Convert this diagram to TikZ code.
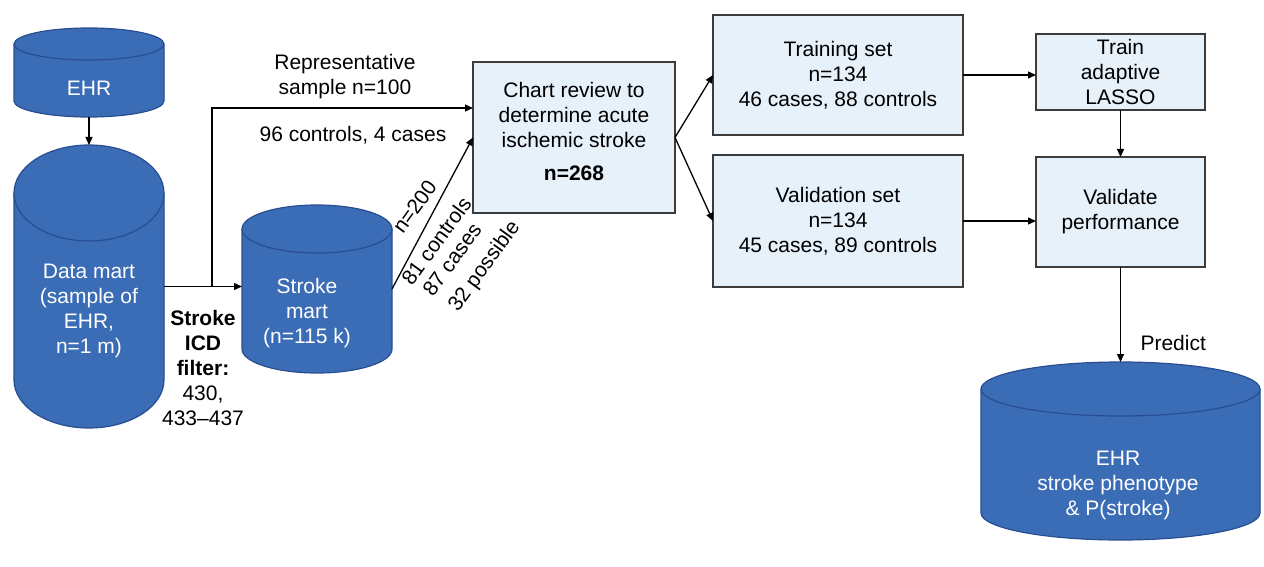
\documentclass[tikz,border=0pt]{standalone}
\usepackage{fontspec}
\setmainfont{Liberation Sans}
\usetikzlibrary{arrows.meta,calc}
\definecolor{cylblue}{RGB}{59,108,182}
\definecolor{cyledge}{RGB}{40,78,145}
\definecolor{boxfill}{RGB}{231,241,250}
\definecolor{boxedge}{RGB}{60,60,60}
\newcommand{\dbcyl}[6]{%
  \path[fill=cylblue,draw=cyledge,line width=1.2pt] (#2,#4+#6) -- (#2,#5-#6)
    arc[start angle=180,end angle=0,x radius={(#3-#2)/2},y radius=#6]
    -- (#3,#4+#6)
    arc[start angle=0,end angle=-180,x radius={(#3-#2)/2},y radius=#6] -- cycle;
  \draw[cyledge,line width=1.2pt] (#2,#4+#6)
    arc[start angle=180,end angle=0,x radius={(#3-#2)/2},y radius=#6];
  \node[inner sep=0pt,outer sep=0pt,minimum width={#3-#2},minimum height={#5-#4}] (#1)
    at ({(#2+#3)/2},{(#4+#5)/2}) {};
}
\begin{document}
\begin{tikzpicture}[x=1pt,y=-1pt,
  font=\fontsize{21}{25}\selectfont,
  box/.style={draw=boxedge,fill=boxfill,line width=1.3pt,inner sep=0pt,outer sep=0pt,align=center},
  cyltext/.style={text=white,align=center},
  lab/.style={align=center,text=black},
  rlab/.style={rotate=54,anchor=base west,inner sep=0pt},
  arr/.style={line width=1.3pt,-{Triangle[length=8pt,width=7pt]}}]
\useasboundingbox (0,0) rectangle (1264,567);
\fill[white] (0,0) rectangle (1264,567);

% cylinders
\dbcyl{ehr}{14}{164}{28}{117}{16}
\dbcyl{dm}{14}{164}{145}{428}{48}
\dbcyl{sm}{242}{392}{205}{373}{24}
\dbcyl{out}{981}{1260}{362}{540}{27}

\node[cyltext] (ehrt) at (89,88) {EHR};
\node[cyltext] (dmt) at (89,311) {Data mart\\(sample of\\EHR,\\n=1 m)};
\node[cyltext] (smt) at (307,313) {Stroke\\mart\\(n=115 k)};
\node[cyltext] (outt) at (1118,485) {EHR\\stroke phenotype\\\& P(stroke)};

% boxes
\node[box,minimum width=202,minimum height=151] (chart) at (574,137.5) {};
\node[lab] (chartt) at (574,131.5) {Chart review to\\determine acute\\ischemic stroke\\[8pt]\textbf{n=268}};
\node[box,minimum width=250,minimum height=120] (train) at (838,75) {Training set\\n=134\\46 cases, 88 controls};
\node[box,minimum width=250,minimum height=132] (valid) at (838,221) {Validation set\\n=134\\45 cases, 89 controls};
\node[box,minimum width=169,minimum height=76] (lasso) at (1120.5,72) {Train\\adaptive\\LASSO};
\node[box,minimum width=169,minimum height=110] (perf) at (1120.5,212) {Validate\\performance};

% labels
\node[lab] (rep) at (345,76.5) {Representative\\sample n=100};
\node[lab] (rep2) at (353,135) {96 controls, 4 cases};
\node[lab] (icd) at (203,368) {\textbf{Stroke}\\\textbf{ICD}\\\textbf{filter:}\\430,\\433--437};
\node[lab,anchor=west] (pred) at (1137,343) {Predict};
\node[rlab] (n200) at (403,235) {n=200};
\node[rlab] (c81) at (412,287) {81 controls};
\node[rlab] (c87) at (433,298) {87 cases};
\node[rlab] (c32) at (458,313) {32 possible};

% connectors
\coordinate (br) at (212,0);
\coordinate (repin) at (473,108);
\draw[arr] (ehr.south) -- (dm.north);
\draw[arr] (dm.east) -- (dm.east -| sm.west);
\draw[arr] (dm.east -| br) |- (repin);
\draw[arr] (sm.east) -- (chart.west);
\draw[arr] (chart.east) -- (train.west);
\draw[arr] (chart.east) -- (valid.west);
\draw[arr] (train.east) -- (train.east -| lasso.west);
\draw[arr] (valid.east) -- (valid.east -| perf.west);
\draw[arr] (lasso.south) -- (perf.north);
\draw[arr] (perf.south) -- (out.north);
\end{tikzpicture}
\end{document}
